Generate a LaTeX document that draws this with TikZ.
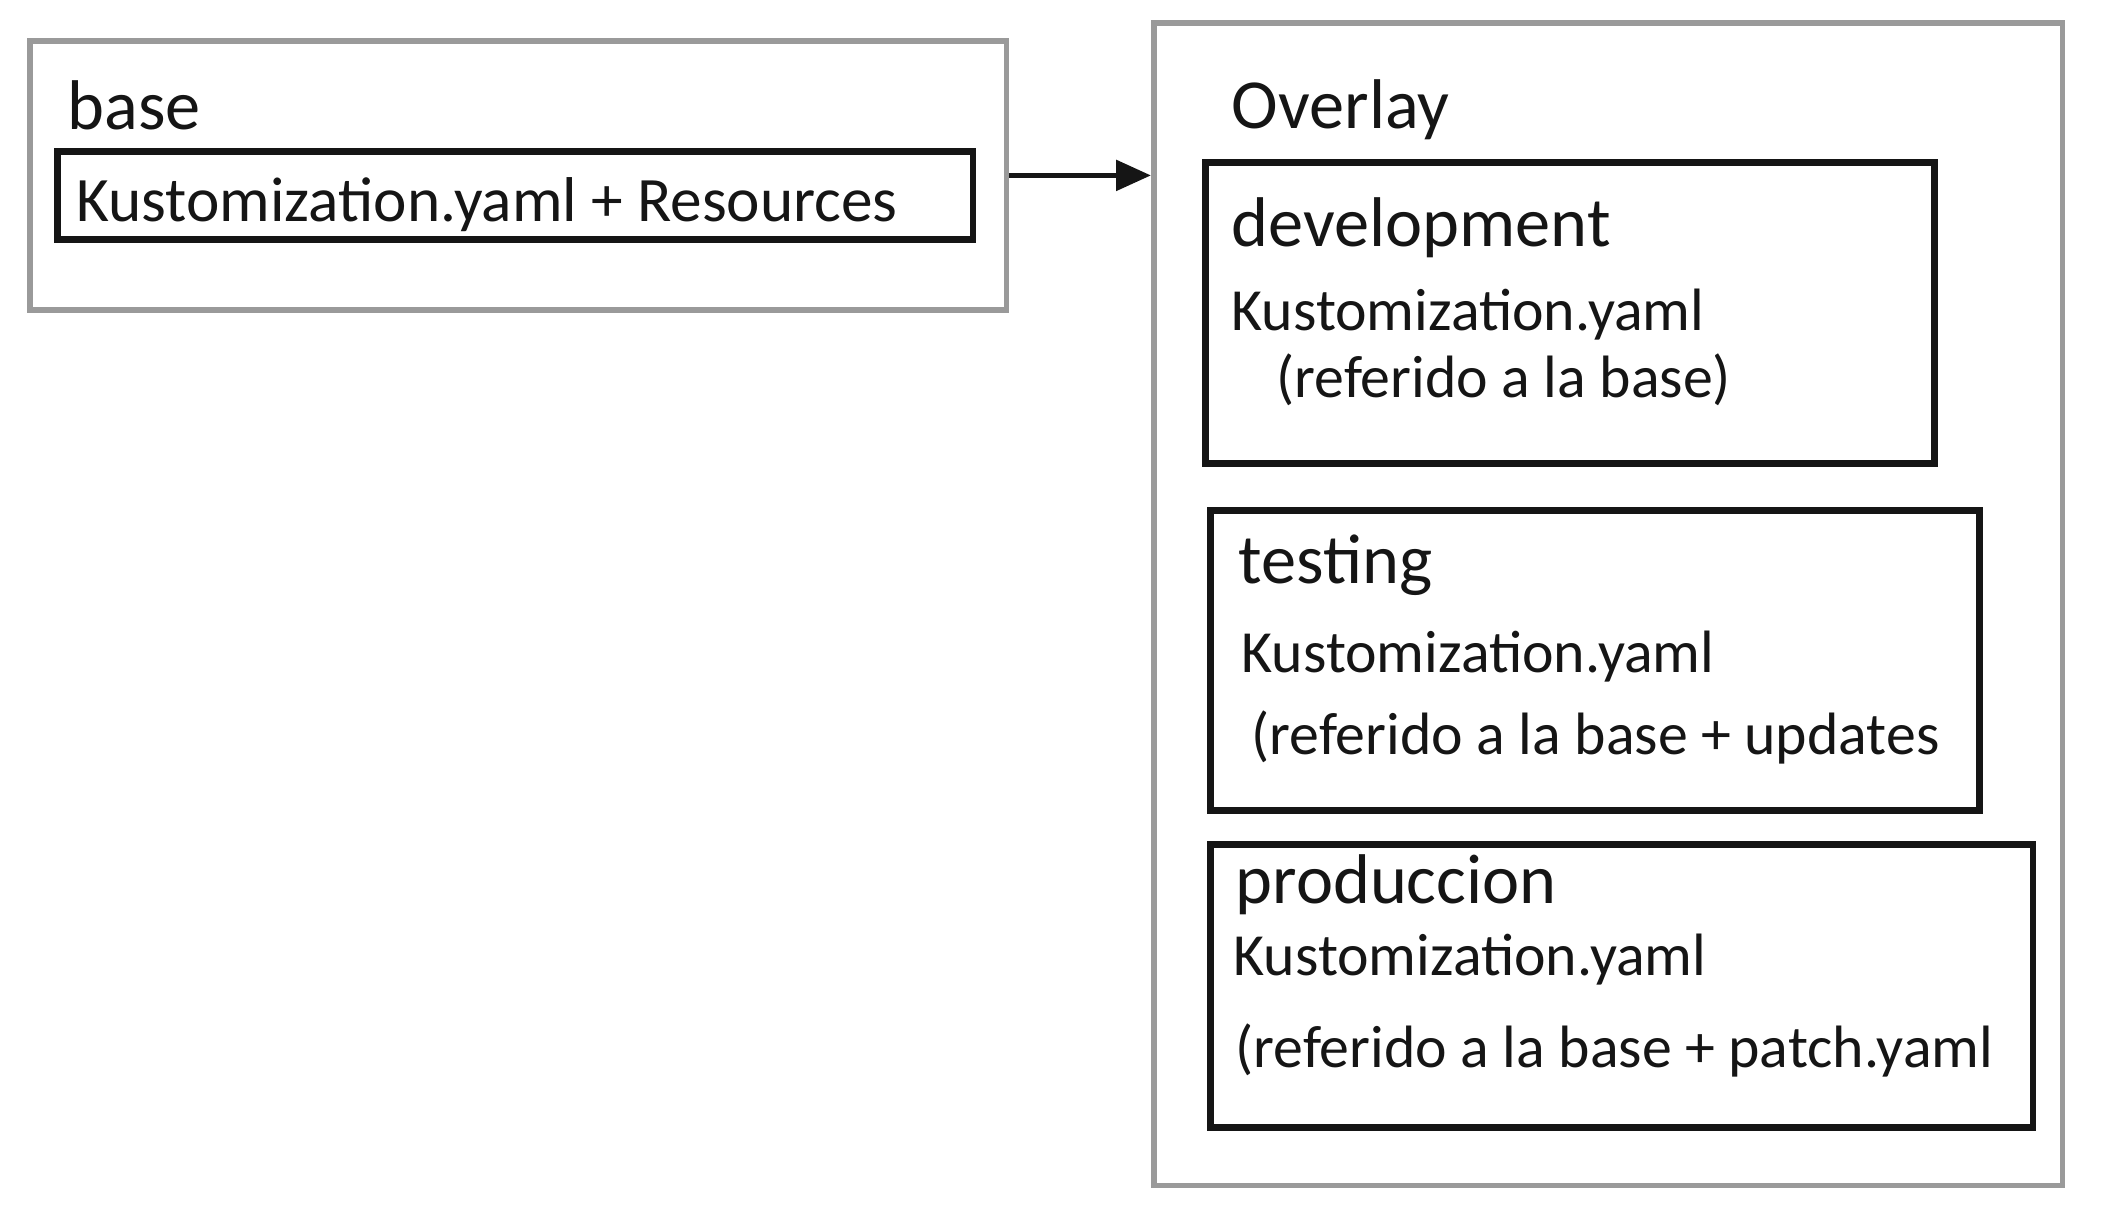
\documentclass[tikz,border=0pt]{standalone}
\usepackage{fontspec}
\setmainfont{Carlito}
\usetikzlibrary{arrows.meta,positioning}
\definecolor{pencil}{HTML}{151515}
\definecolor{sketchgray}{HTML}{9A9A9A}
\tikzset{outerbox/.style={draw=sketchgray,line width=1.6pt,anchor=north west,inner sep=0pt},innerbox/.style={draw=pencil,line width=1.9pt,anchor=north west,inner sep=0pt},title/.style={anchor=west,inner sep=0pt,font=\fontsize{20}{24}\selectfont,text=pencil},entry/.style={anchor=west,inner sep=0pt,font=\fontsize{17}{20}\selectfont,text=pencil},arr/.style={-{Triangle[length=3.5mm,width=3mm]},draw=pencil,line width=1.6pt}}
\begin{document}
\begin{tikzpicture}[x=0.01cm,y=-0.01cm]
\useasboundingbox (0,0) rectangle (2110,1226);
% base
\node[outerbox,minimum width=9.76cm,minimum height=2.69cm] (base) at (27,38) {};
\node[title] (basettl) at (67,105) {base};
\node[innerbox,minimum width=9.15cm,minimum height=0.88cm] (baseres) at (54,148) {};
\node[entry,font=\fontsize{18}{22}\selectfont] (basetxt) at (76,205) {Kustomization.yaml + Resources};
% overlay
\node[outerbox,minimum width=9.08cm,minimum height=11.62cm] (overlay) at (1151,20) {};
\node[title] (ovlttl) at (1231,110) {Overlay};
\node[innerbox,minimum width=7.29cm,minimum height=3.01cm] (dev) at (1202,159) {};
\node[title] (devttl) at (1231,228) {development};
\node[entry] (devk) at (1231,315) {Kustomization.yaml};
\node[entry] (devref) at (1276,380) {(referido a la base)};
\node[innerbox,minimum width=7.69cm,minimum height=3.00cm] (test) at (1207,507) {};
\node[title] (testttl) at (1238,565) {testing};
\node[entry] (testk) at (1241,657) {Kustomization.yaml};
\node[entry] (testref) at (1251,737) {(referido a la base + updates};
\node[innerbox,minimum width=8.22cm,minimum height=2.83cm] (prod) at (1207,841) {};
\node[title] (prodttl) at (1235,885) {produccion};
\node[entry] (prodk) at (1233,960) {Kustomization.yaml};
\node[entry] (prodref) at (1235,1050) {(referido a la base + patch.yaml};
\draw[arr] (base.east) -- (base.east -| overlay.west);
\end{tikzpicture}
\end{document}
